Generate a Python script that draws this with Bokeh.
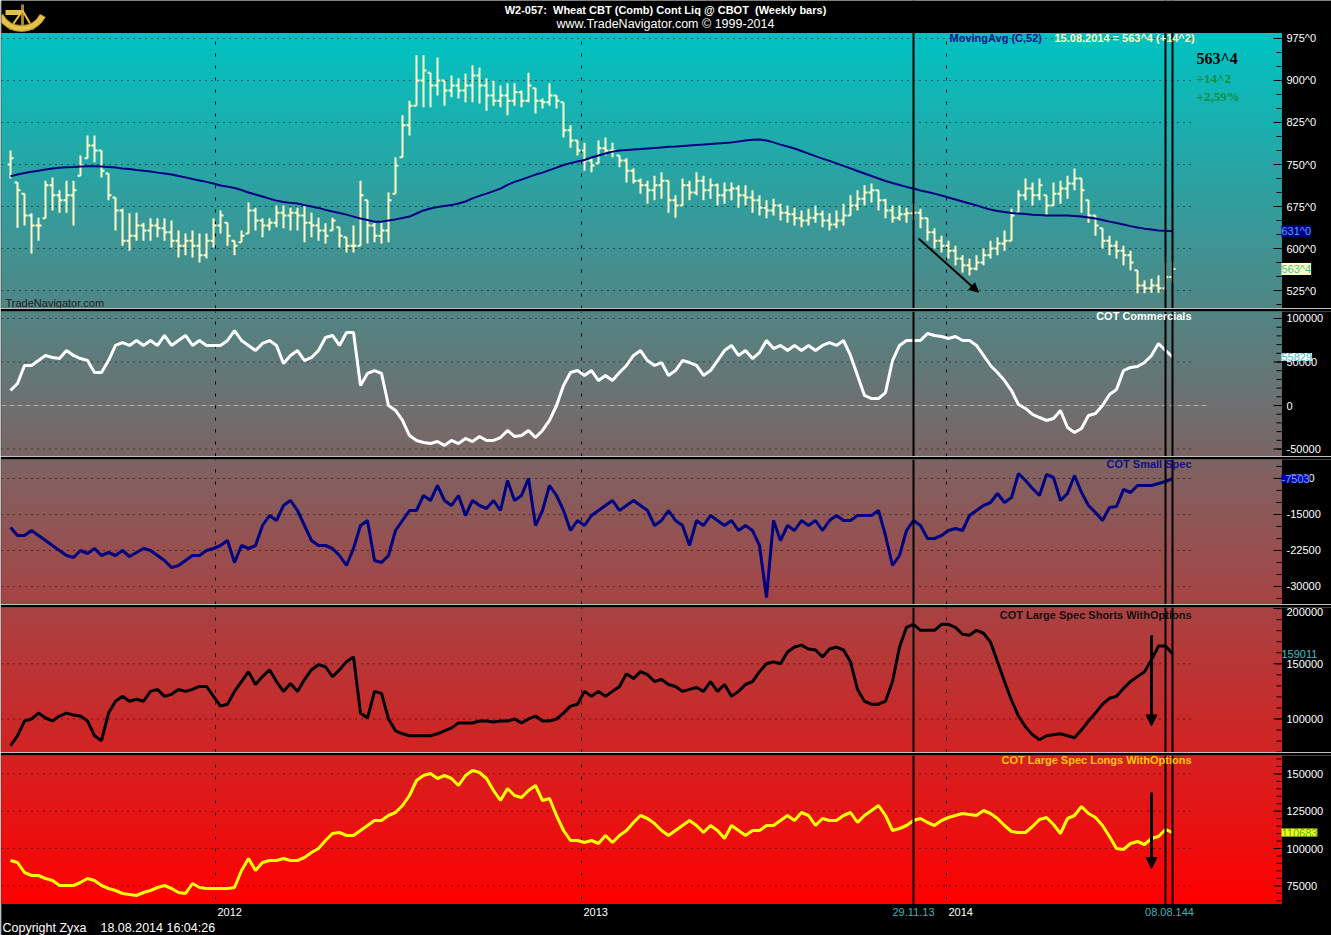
import numpy as np
import pandas as pd
from bokeh.plotting import figure
from bokeh.layouts import column
from bokeh.models import (Range1d, FixedTicker, Span, Label, Arrow,
                          NormalHead, Grid, ColumnDataSource)
from bokeh.embed import file_html
from bokeh.resources import INLINE

FONT = "Liberation Sans"
SERIF = "Liberation Serif"

# ---------------- data ----------------
week_dates = pd.date_range("2011-06-10", periods=167, freq="7D")

price_open = [
    750, 718, 698, 659, 641, 654, 713, 695, 686, 695,
    730, 761, 784, 775, 734, 691, 668, 614, 623, 641,
    632, 641, 636, 629, 614, 605, 614, 605, 588, 614,
    641, 646, 614, 611, 627, 668, 650, 641, 646, 664,
    659, 664, 659, 646, 641, 632, 632, 638, 620, 605,
    605, 686, 641, 623, 632, 698, 763, 820, 855, 900,
    914, 891, 900, 882, 891, 882, 891, 909, 891, 873,
    864, 873, 864, 879, 864, 886, 864, 861, 873, 861,
    811, 793, 775, 757, 752, 779, 775, 766, 757, 739,
    721, 713, 704, 713, 721, 686, 677, 713, 700, 721,
    704, 713, 695, 704, 707, 695, 691, 686, 673, 668,
    677, 664, 661, 654, 650, 655, 661, 650, 643, 650,
    659, 677, 689, 700, 704, 686, 668, 655, 661, 663,
    664, 654, 629, 614, 605, 596, 582, 570, 564, 575,
    588, 600, 609, 614, 664, 695, 707, 695, 695, 677,
    698, 707, 716, 725, 686, 659, 636, 614, 605, 596,
    588, 561, 534, 529, 534, 529, 549]
price_high = [
    775, 718, 698, 663, 655, 721, 727, 704, 721, 721,
    766, 802, 802, 775, 734, 691, 671, 663, 664, 646,
    654, 654, 654, 650, 632, 627, 632, 627, 627, 654,
    668, 646, 614, 632, 682, 673, 654, 654, 677, 677,
    673, 673, 677, 664, 655, 645, 655, 638, 620, 641,
    721, 686, 646, 646, 700, 763, 838, 864, 945, 945,
    914, 941, 900, 909, 904, 912, 927, 923, 904, 900,
    891, 895, 895, 882, 914, 886, 868, 895, 873, 861,
    820, 793, 789, 761, 793, 798, 789, 766, 761, 743,
    725, 721, 730, 736, 721, 695, 725, 721, 736, 730,
    725, 716, 718, 718, 713, 713, 704, 695, 686, 689,
    680, 677, 673, 668, 671, 677, 668, 663, 668, 680,
    695, 704, 713, 716, 704, 689, 677, 677, 673, 680,
    671, 654, 636, 623, 614, 605, 588, 582, 588, 600,
    614, 620, 632, 671, 704, 725, 718, 725, 695, 718,
    721, 730, 743, 725, 686, 659, 636, 623, 614, 605,
    596, 561, 543, 546, 552, 575, 576]
price_low = [
    725, 637, 641, 591, 614, 654, 668, 664, 664, 641,
    730, 761, 754, 727, 686, 632, 605, 596, 614, 614,
    614, 620, 614, 602, 584, 588, 584, 575, 582, 602,
    627, 605, 588, 611, 627, 632, 620, 632, 638, 636,
    632, 632, 611, 620, 614, 609, 632, 602, 593, 593,
    605, 609, 611, 609, 611, 698, 763, 802, 855, 852,
    852, 873, 855, 870, 868, 861, 861, 859, 846, 855,
    852, 838, 855, 852, 861, 841, 850, 855, 850, 798,
    780, 766, 739, 736, 752, 766, 763, 745, 718, 716,
    698, 680, 686, 689, 664, 655, 677, 686, 695, 686,
    689, 677, 680, 686, 673, 677, 664, 659, 654, 659,
    650, 646, 641, 638, 641, 646, 638, 632, 636, 641,
    659, 668, 677, 682, 668, 654, 646, 650, 646, 650,
    636, 614, 600, 593, 582, 570, 557, 552, 561, 570,
    582, 588, 596, 614, 664, 686, 677, 686, 659, 677,
    680, 689, 704, 664, 646, 623, 600, 588, 582, 570,
    561, 520, 520, 521, 521, 525, 539]
price_close = [
    761, 704, 659, 641, 641, 713, 695, 686, 695, 704,
    748, 784, 775, 739, 695, 668, 614, 623, 641, 632,
    641, 636, 629, 614, 605, 614, 605, 588, 614, 641,
    659, 623, 605, 623, 668, 650, 641, 646, 664, 659,
    664, 659, 646, 641, 632, 623, 650, 623, 605, 605,
    695, 641, 623, 632, 686, 748, 820, 855, 900, 918,
    891, 900, 882, 891, 882, 891, 909, 891, 873, 864,
    873, 864, 879, 864, 891, 864, 861, 873, 864, 811,
    793, 775, 757, 748, 779, 775, 775, 757, 739, 721,
    713, 704, 713, 721, 686, 677, 713, 700, 721, 704,
    713, 695, 704, 707, 695, 691, 686, 673, 668, 677,
    664, 661, 654, 650, 655, 661, 650, 643, 650, 659,
    677, 689, 700, 704, 686, 668, 655, 661, 663, 664,
    654, 629, 614, 605, 596, 582, 570, 564, 575, 588,
    600, 609, 614, 659, 695, 707, 695, 713, 677, 698,
    707, 716, 725, 704, 659, 641, 614, 605, 596, 588,
    575, 534, 529, 534, 529, 549, 563.5]
ma52 = [
    729, 732, 735, 737, 739, 741, 743, 744, 745, 745.5,
    746.5, 747, 747, 746.5, 745.5, 744.5, 743, 742, 740, 739,
    737.5, 735.5, 734, 732, 729.5, 727, 724, 721.5, 719, 716,
    712.5, 710.5, 708, 704.5, 700, 696.5, 693, 689, 685.5, 683,
    681.5, 680.5, 677.5, 675, 672.5, 669, 666, 663.5, 660.5, 657,
    653.5, 651, 648, 648, 650, 652, 654.5, 657, 662.5, 668,
    671.5, 674, 676, 677.5, 680.5, 684, 689.5, 694, 698, 702.5,
    707, 713.5, 719, 723, 727.5, 732, 735.5, 740, 744.5, 749,
    752.5, 755.5, 758, 762.5, 766, 769.5, 773, 775, 776, 777,
    777.5, 778.5, 779.5, 780.5, 781.5, 782, 783, 784, 785, 785.5,
    786.5, 787.5, 788.5, 789.5, 791, 793, 794, 794.5, 793, 789.5,
    785.5, 782, 778.5, 774, 769.5, 765, 760.5, 756.5, 752, 747.5,
    743, 738.5, 734, 729.5, 725, 720.5, 717, 713.5, 710, 707,
    703.5, 701, 698, 694.5, 691, 687.5, 684, 680.5, 677, 673,
    669.5, 667, 665, 663.5, 662.5, 661.5, 660.5, 660, 659, 659,
    659, 659, 658, 657, 655.5, 653.5, 651, 648, 645.5, 643,
    640, 637.5, 635.5, 634, 632, 631.5, 631]
cot_commercials = [
    17200, 25300, 46000, 46000, 51700, 57500, 55200, 54000, 63200, 57500,
    54000, 51700, 37900, 37900, 51700, 69000, 72400, 69000, 74700, 69000,
    74700, 69000, 80500, 69000, 74700, 80500, 69000, 74700, 69000, 69000,
    69000, 74700, 86200, 74700, 69000, 63200, 71300, 74700, 69000, 48300,
    57500, 63200, 51700, 55200, 63200, 78200, 80500, 69000, 83900, 83900,
    23000, 36800, 40200, 36800, 0, -5700, -17200, -34500, -40200, -42500,
    -43700, -41400, -46000, -40200, -43700, -37900, -41400, -35600, -40200, -40200,
    -36800, -28700, -35600, -34500, -28700, -36800, -28700, -17200, 0, 23000,
    37900, 40200, 34500, 40200, 28700, 34500, 28700, 37900, 46000, 57500,
    63200, 51700, 46000, 49400, 34500, 40200, 51700, 49400, 46000, 34500,
    40200, 51700, 63200, 69000, 57500, 63200, 54000, 60900, 74700, 65500,
    69000, 63200, 69000, 63200, 69000, 63200, 69000, 72400, 69000, 74700,
    57500, 34500, 11500, 8000, 8000, 14900, 51700, 69000, 74700, 74700,
    74700, 82800, 80500, 79300, 77000, 79300, 74700, 74700, 69000, 57500,
    46000, 37900, 28700, 17200, 1100, -3400, -10300, -13800, -17200, -14900,
    -5700, -25300, -31000, -26400, -11500, -9200, 0, 12600, 18400, 40200,
    43700, 44800, 49400, 57500, 71300, 63200, 55829]
cot_small_spec = [
    -17708, -19375, -19375, -18333, -19375, -20417, -21458, -22500, -23542, -23958,
    -22500, -23125, -22083, -23542, -22917, -23542, -22500, -23750, -22917, -22083,
    -22500, -23542, -24583, -26042, -25625, -24583, -23542, -23542, -22500, -22083,
    -21458, -20417, -25000, -21458, -22083, -21458, -17292, -15208, -16250, -13125,
    -12083, -14167, -17292, -20417, -21458, -21458, -22083, -23542, -25625, -22083,
    -17292, -16250, -24583, -25000, -23542, -18333, -16250, -14167, -14167, -11042,
    -12083, -8958, -12083, -13125, -11042, -15208, -12083, -13125, -13750, -12083,
    -14167, -7917, -12083, -11042, -7500, -17292, -14167, -8958, -11042, -14167,
    -18333, -16250, -17292, -15208, -14167, -13125, -12083, -14167, -13125, -12083,
    -13125, -14167, -17292, -16250, -14167, -16250, -17292, -21458, -16250, -17292,
    -15208, -16250, -17292, -16250, -18333, -17292, -18333, -21458, -32292, -16250,
    -20417, -17292, -18333, -16250, -17292, -16250, -18333, -16250, -15208, -16250,
    -16250, -15208, -15208, -15208, -14167, -19375, -25625, -23542, -18333, -16250,
    -17292, -20000, -20000, -19375, -18333, -17917, -18333, -15208, -14167, -13125,
    -12500, -10625, -12500, -11458, -6458, -7917, -9583, -11042, -6667, -7292,
    -12083, -10625, -6875, -10417, -13125, -14583, -16250, -13542, -13333, -9792,
    -10417, -8958, -8958, -8958, -8542, -8125, -7503]
cot_ls_shorts = [
    75893, 84821, 98214, 100000, 105357, 100893, 98214, 102679, 105357, 103571,
    102679, 98214, 84821, 80357, 105357, 116071, 120536, 116071, 117857, 116071,
    125000, 126786, 120536, 122321, 126786, 125000, 126786, 129464, 129464, 120536,
    111607, 113393, 125000, 133929, 142857, 131250, 138393, 144643, 133929, 125000,
    132143, 125000, 135714, 144643, 149107, 147321, 138393, 144643, 151786, 156250,
    105357, 100893, 125000, 123214, 100000, 89286, 86607, 84821, 84821, 84821,
    84821, 86607, 89286, 91964, 96429, 96429, 96429, 98214, 98214, 97321,
    98214, 98214, 100000, 96429, 100000, 102679, 98214, 98214, 100000, 105357,
    111607, 113393, 125000, 120536, 125000, 120536, 125000, 129464, 141071, 136607,
    142857, 140179, 133929, 135714, 131250, 129464, 125000, 126786, 128571, 125000,
    133929, 125000, 131250, 120536, 125000, 131250, 133929, 142857, 150000, 151786,
    150000, 160714, 165179, 166964, 163393, 162500, 156250, 163393, 165179, 162500,
    151786, 126786, 116071, 113393, 113393, 116071, 133929, 165179, 183036, 185714,
    180357, 180357, 180357, 185714, 185714, 183036, 176786, 175893, 180357, 177679,
    169643, 151786, 133929, 116964, 102679, 92857, 85714, 81250, 84821, 85714,
    86607, 84821, 83036, 90179, 98214, 105357, 113393, 118750, 120536, 127679,
    133929, 138393, 142857, 153571, 166071, 166071, 159011]
cot_ls_longs = [
    91957, 90617, 83914, 81904, 81904, 79893, 78552, 75201, 75201, 75201,
    77212, 79893, 78552, 75201, 73190, 71850, 69839, 69169, 68499, 70511,
    71850, 73860, 75201, 73190, 70511, 69839, 76542, 73860, 73190, 73190,
    73190, 73190, 73860, 85255, 93298, 85255, 90617, 91957, 91957, 93298,
    91957, 91957, 93968, 97319, 100000, 105362, 110054, 110724, 108713, 108713,
    112064, 115416, 118767, 118767, 122118, 124129, 128820, 135523, 145576, 148927,
    150268, 146917, 148927, 146917, 142225, 148927, 152279, 150938, 146917, 138874,
    132172, 140214, 135523, 134182, 138874, 142225, 132172, 133512, 122118, 112064,
    105362, 105362, 104021, 105362, 103351, 108713, 104021, 108713, 112064, 117426,
    122118, 120107, 116756, 112064, 108713, 112064, 115416, 118767, 115416, 110724,
    115416, 112064, 106702, 115416, 112064, 108713, 112064, 112064, 115416, 115416,
    118767, 122118, 118767, 124129, 122118, 115416, 120107, 118767, 118767, 122118,
    124129, 117426, 122118, 125469, 128820, 122118, 112064, 113405, 115416, 118767,
    120107, 117426, 115416, 118767, 120777, 122118, 123458, 122788, 122118, 125469,
    123458, 120107, 115416, 111394, 110724, 110724, 114745, 119437, 120777, 116086,
    110054, 120107, 122118, 128150, 123458, 120777, 115416, 108043, 100000, 99330,
    103351, 104692, 102681, 106702, 108043, 112735, 110683]

price_ticks = [975, 900, 825, 750, 675, 600, 525]
price_tick_labels = ["975^0", "900^0", "825^0", "750^0", "675^0", "600^0", "525^0"]
com_ticks = [100000, 50000, 0, -50000]
ss_ticks = [-7500, -15000, -22500, -30000]
lss_ticks = [200000, 150000, 100000]
lsl_ticks = [150000, 125000, 100000, 75000]
year_labels = ["2012", "2013", "2014"]
year_dates = ["2012-01-01", "2013-01-01", "2014-01-01"]
marker_dates = ["2013-11-29", "2014-08-08", "2014-08-15"]

# ---------------- geometry helpers ----------------
DAY = 86400000.0


def ms(d):
    return pd.Timestamp(d).value / 1e6


x = np.array([ms(d) for d in week_dates])
X0, X1 = ms("2011-06-01"), ms("2014-12-02")     # coloured data area
W = 1331
LEFT = 1
FRAME_W = W - LEFT
DATA_W = 1280                                     # px of coloured area
PXD = DATA_W / ((X1 - X0) / DAY)                  # px per day
XEND = X0 + FRAME_W / PXD * DAY                   # frame also spans the black scale strip
xrange_shared = Range1d(X0, XEND)
year_ms = [ms(d) for d in year_dates]
GRID_END = ms("2014-09-07")


def px(n):
    return n / PXD * DAY


REF_TOP, REF_BOT = 33.0, 903.0
C_TOP = np.array([0.0, 195.0, 195.0])
C_BOT = np.array([255.0, 0.0, 0.0])


def grad_color(ry):
    f = min(max((ry - REF_TOP) / (REF_BOT - REF_TOP), 0.0), 1.0)
    c = C_TOP + (C_BOT - C_TOP) * f
    return "#%02x%02x%02x" % tuple(int(round(v)) for v in c)


def make_panel(height, yr, ref_span, top_border, extra_top_px=0, extra_bottom_px=0):
    lo, hi = yr
    r0, r1 = ref_span
    n = int(round(r1 - r0))
    upp = (hi - lo) / n
    p = figure(width=W, height=height, x_range=xrange_shared,
               y_range=Range1d(lo - extra_bottom_px * upp, hi + extra_top_px * upp),
               x_axis_type="datetime", x_axis_location=None, y_axis_location=None,
               output_backend="svg", toolbar_location=None,
               min_border_left=LEFT, min_border_right=0,
               min_border_top=top_border, min_border_bottom=0,
               border_fill_color="black", background_fill_color="black",
               outline_line_color=None)
    p.grid.visible = False
    edges = np.linspace(hi, lo, n + 1)
    cols = [grad_color(r0 + k + 0.5) for k in range(n)]
    p.quad(left=X0, right=X1, top=edges[:-1], bottom=edges[1:],
           fill_color=cols, line_color=cols, line_width=1, level="image")
    p.add_layout(Grid(dimension=0, ticker=FixedTicker(ticks=year_ms),
                      grid_line_color="black", grid_line_dash="3 9", grid_line_width=1))
    return p, upp


def label(p, x, y, text, color, size="11px", style="bold", font=FONT,
          align="left", baseline="middle", bg=None):
    kw = dict(x=x, y=y, text=text, text_color=color, text_font_size=size,
              text_font_style=style, text_font=font, text_align=align,
              text_baseline=baseline)
    if bg is not None:
        kw["background_fill_color"] = bg
    p.add_layout(Label(**kw))


def scale(p, major, labels, minor, grid_ticks, upp, shift=None):
    p.segment(x0=X0, x1=GRID_END, y0=grid_ticks, y1=grid_ticks, line_color="black",
              line_dash="1 5", line_width=1, level="underlay")
    for d in marker_dates:
        p.add_layout(Span(location=ms(d), dimension="height",
                          line_color="black", line_width=2))
    p.segment(x0=X1 - px(5), x1=X1, y0=minor, y1=minor, line_color="black", line_width=1)
    p.segment(x0=X1 - px(8), x1=X1, y0=major, y1=major, line_color="black", line_width=1)
    shift = shift or {}
    for t, s in zip(major, labels):
        label(p, X1 + px(5), t - shift.get(t, 0) * upp, s, "white", style="normal")


# ---------------- panel 1 : price (+ title strip above) ----------------
LO1, HI1 = 492.9, 983.9
p1, u1 = make_panel(308, (LO1, HI1), (33, 308), 0, extra_top_px=33)
scale(p1, price_ticks, price_tick_labels, list(range(500, 1000, 25)), price_ticks, u1)


def top_xy(xr, yr):
    """position inside the black title strip, in page pixels of the strip"""
    return X0 + px(xr - 1), HI1 + (33 - yr) * u1


# small golden sextant logo in the title strip
GOLD, GOLD_D = "#E6C14A", "#A8841E"
lx0, ly0 = top_xy(5, 12)
lx1, ly1 = top_xy(22, 12)
p1.segment(x0=lx0, y0=ly0, x1=lx1, y1=ly1, line_color=GOLD, line_width=5)
ax0, ay0 = top_xy(22, 4)
ax1, ay1 = top_xy(22, 30)
p1.segment(x0=ax0, y0=ay0, x1=ax1, y1=ay1, line_color=GOLD_D, line_width=3)
bx0, by0 = top_xy(22, 10)
bx1, by1 = top_xy(9, 29)
bx2, by2 = top_xy(33, 29)
p1.segment(x0=[bx0, bx0], y0=[by0, by0], x1=[bx1, bx2], y1=[by1, by2],
           line_color=GOLD, line_width=2)
cx, cy = top_xy(21, 4)
p1.annular_wedge(x=cx, y=cy, inner_radius=21, outer_radius=27, inner_radius_units="screen",
                 outer_radius_units="screen", start_angle=np.radians(-152),
                 end_angle=np.radians(-28), fill_color=GOLD, line_color=GOLD_D, line_width=1)

BAR = "#FFFFC8"
src = ColumnDataSource(dict(x=x, xl=x - 3 * DAY, xrt=x + 3 * DAY, o=price_open,
                            h=price_high, l=price_low, c=price_close))
p1.segment("x", "l", "x", "h", source=src, line_color=BAR, line_width=2)
p1.segment("xl", "o", "x", "o", source=src, line_color=BAR, line_width=2)
p1.segment("x", "c", "xrt", "c", source=src, line_color=BAR, line_width=2)
p1.line(x, ma52, line_color="#000080", line_width=2)

p1.add_layout(Arrow(end=NormalHead(size=9, fill_color="black", line_color="black"),
                    x_start=ms("2013-12-04"), y_start=618, x_end=ms("2014-02-02"), y_end=522,
                    line_color="black", line_width=2))

TITLE_X = X0 + px(664)
label(p1, TITLE_X, HI1 + 24 * u1, "W2-057:\u00a0 Wheat CBT (Comb) Cont Liq @ CBOT\u00a0 (Weekly bars)",
      "white", align="center")
label(p1, TITLE_X, HI1 + 10 * u1, "www.TradeNavigator.com \u00a9 1999-2014", "white",
      size="12.5px", style="normal", align="center")

label(p1, ms("2014-01-04"), 975, "MovingAvg (C,52)", "#14148C")
label(p1, ms("2014-04-19"), 975, "15.08.2014 = 563^4 (+14^2)", "#FFFFC0")
label(p1, ms("2014-09-08"), 939, "563^4", "black", size="16px", font=SERIF)
label(p1, ms("2014-09-08"), 904, "+14^2", "#109040", size="13px", font=SERIF)
label(p1, ms("2014-09-08"), 871, "+2,59%", "#109040", size="13px", font=SERIF)
label(p1, ms("2011-06-05"), 503, "TradeNavigator.com", "#202020", style="normal")
label(p1, X1, ma52[-1], "631^0", "#4AA8FF", style="normal", bg="#000080")
label(p1, X1, price_close[-1], "563^4", "#3FBFA0", style="normal", bg="#FFFFC0")

# ---------------- panel 2 : COT Commercials ----------------
p2, u2 = make_panel(148, (-58619, 108044), (311, 456), 3)
scale(p2, com_ticks, [str(t) for t in com_ticks], list(range(-50000, 110001, 10000)),
      [100000, 50000, -50000], u2)
p2.segment(x0=X0, x1=ms("2014-09-20"), y0=0, y1=0, line_color="#B0B0B0",
           line_dash="5 3", line_width=1, level="underlay")
p2.line(x, cot_commercials, line_color="white", line_width=3)
label(p2, ms("2014-09-03"), 102300, "COT Commercials", "white", align="right")
label(p2, X1, cot_commercials[-1], "55829", "#3CC0C8", style="normal", bg="white")

# ---------------- panel 3 : COT Small Spec ----------------
p3, u3 = make_panel(148, (-33750, -3542), (459, 604), 3)
scale(p3, ss_ticks, [str(t) for t in ss_ticks], list(range(-32500, -2499, 2500)),
      ss_ticks, u3)
p3.line(x, cot_small_spec, line_color="#000080", line_width=3)
label(p3, ms("2014-09-03"), -4583, "COT Small Spec", "#10108C", align="right")
label(p3, X1, cot_small_spec[-1], "-7503", "#6FA8FF", style="normal", bg="#0000B0")

# ---------------- panel 4 : COT Large Spec Shorts ----------------
p4, u4 = make_panel(148, (69643, 201000), (607, 752), 3)
scale(p4, lss_ticks, [str(t) for t in lss_ticks], list(range(70000, 200001, 10000)),
      [150000, 100000], u4, shift={200000: 3})
p4.line(x, cot_ls_shorts, line_color="black", line_width=3)
p4.add_layout(Arrow(end=NormalHead(size=11, fill_color="black", line_color="black"),
                    x_start=ms("2014-07-25"), y_start=175900, x_end=ms("2014-07-25"),
                    y_end=93750, line_color="black", line_width=3))
label(p4, ms("2014-09-03"), 194643, "COT Large Spec Shorts WithOptions", "#141010", align="right")
label(p4, X1, cot_ls_shorts[-1], "159011", "#3CC0C8", style="normal")

# ---------------- panel 5 : COT Large Spec Longs + date strip ----------------
LO5, HI5 = 63137, 162332
p5, u5 = make_panel(183, (LO5, HI5), (755, 903), 3, extra_bottom_px=32)
scale(p5, lsl_ticks, [str(t) for t in lsl_ticks], list(range(65000, 160001, 5000)),
      lsl_ticks, u5)
p5.line(x, cot_ls_longs, line_color="#FFFF00", line_width=3)
p5.add_layout(Arrow(end=NormalHead(size=11, fill_color="black", line_color="black"),
                    x_start=ms("2014-07-25"), y_start=137500, x_end=ms("2014-07-25"),
                    y_end=86600, line_color="black", line_width=3))
label(p5, ms("2014-09-03"), 158981, "COT Large Spec Longs WithOptions", "#FFC800", align="right")
label(p5, X1, cot_ls_longs[-1], "110683", "#3CB43C", style="normal", bg="#FFFF00")

for d, t in zip(year_ms, year_labels):
    label(p5, d + px(2), LO5 - 8 * u5, t, "white", style="normal")
label(p5, ms("2013-11-29"), LO5 - 8 * u5, "29.11.13", "#3CB4B4", style="normal", align="center")
label(p5, ms("2014-08-12"), LO5 - 8 * u5, "08.08.144", "#3CB4B4", style="normal", align="center")
label(p5, X0 + px(1), LO5 - 24 * u5, "Copyright Zyxa\u00a0\u00a0\u00a0 18.08.2014 16:04:26",
      "white", size="12.5px", style="normal")

layout = column(p1, p2, p3, p4, p5, spacing=0)
open("out.html", "w").write(file_html(layout, INLINE))
